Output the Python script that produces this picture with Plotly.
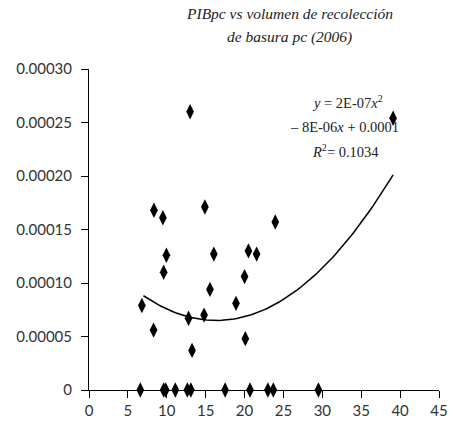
import plotly.graph_objects as go
import numpy as np

# PIB per capita vs garbage collection volume per capita (2006)
basura_x = [6.6, 9.6, 9.86, 11.1, 12.65, 13.1, 17.5, 20.7, 23.0, 23.7, 29.5,
            6.8, 8.3, 9.6, 9.95, 12.8, 13.25, 14.8, 15.55, 16.05, 18.9, 20.0,
            20.1, 20.5, 21.55, 13.0, 8.35, 9.5, 14.9, 23.95, 39.1]
pib_y = [0, 0, 0, 0, 0, 0, 0, 0, 0, 0, 0,
         0.000079, 0.000056, 0.000110, 0.000126, 0.000067, 0.000037, 0.000070,
         0.000094, 0.000127, 0.000081, 0.000106, 0.000048, 0.000130, 0.000127,
         0.000260, 0.000168, 0.000161, 0.000171, 0.000157, 0.000254]

y_ticks = [0, 0.00005, 0.0001, 0.00015, 0.0002, 0.00025, 0.0003]
y_labels = ["0", "0.00005", "0.00010", "0.00015", "0.00020", "0.00025", "0.00030"]

title_lines = ["PIBpc vs volumen de recolección", "de basura pc (2006)"]
eq_lines = ["<i>y</i> = 2E-07<i>x</i><sup>2</sup>",
            "– 8E-06<i>x</i> + 0.0001",
            "<i>R</i><sup>2</sup>= 0.1034"]

# polynomial (order 2) trendline
coef = np.polyfit(basura_x, pib_y, 2)
xs = np.linspace(7.0, max(basura_x), 100)
trend_y = np.polyval(coef, xs)

fig = go.Figure()
fig.add_trace(go.Scatter(x=xs, y=trend_y, mode="lines",
                         line=dict(color="black", width=1.5), hoverinfo="skip"))
fig.add_trace(go.Scatter(x=basura_x, y=pib_y, mode="markers", cliponaxis=False,
                         marker=dict(symbol="diamond-tall", size=11, color="black")))

fig.update_layout(
    width=453, height=430,
    margin=dict(l=89, r=14, t=69, b=40, autoexpand=False),
    paper_bgcolor="white", plot_bgcolor="white",
    showlegend=False,
    font=dict(family="Lato", size=15, color="#333"),
)
fig.update_xaxes(range=[0, 45], tickvals=list(range(0, 50, 5)), showgrid=False,
                 zeroline=False, showline=True, linecolor="black", linewidth=1,
                 ticks="outside", ticklen=7, tickcolor="black")
fig.update_yaxes(range=[0, 0.0003], tickvals=y_ticks, ticktext=y_labels, showgrid=False,
                 zeroline=False, showline=True, linecolor="black", linewidth=1,
                 ticks="outside", ticklen=7, tickcolor="black", ticklabelstandoff=6)

# title, one annotation per line
for txt, yy in zip(title_lines, [1.174, 1.10]):
    fig.add_annotation(x=0.574, y=yy, xref="paper", yref="paper", showarrow=False,
                       text="<i>" + txt + "</i>", xanchor="center", yanchor="middle",
                       font=dict(family="Liberation Serif", size=15.5, color="#222"))

# trendline equation
for txt, xx, yy in zip(eq_lines, [0.738, 0.73, 0.733], [0.897, 0.819, 0.745]):
    fig.add_annotation(x=xx, y=yy, xref="paper", yref="paper", showarrow=False,
                       text=txt, xanchor="center", yanchor="middle",
                       font=dict(family="Liberation Serif", size=14.5, color="#222"))

fig.write_html("out.html", config={"displayModeBar": False},
               post_script="document.body.style.margin='0';")
